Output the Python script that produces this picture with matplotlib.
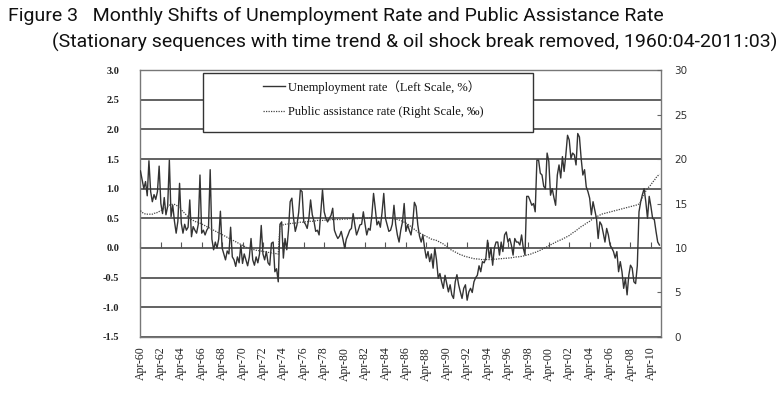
import matplotlib
matplotlib.use("Agg")
import matplotlib.pyplot as plt
from matplotlib.patches import Rectangle
import numpy as np

# bimonthly readings (Apr, Jun, Aug, Oct, Dec, Feb of next year), starting 1960:04
unemp_1960s = [1.30, 1.15, 1.00, 1.12, 0.88, 1.47,
               0.95, 0.78, 0.90, 0.82, 0.95, 1.38,
               0.75, 0.58, 0.85, 0.56, 0.70, 1.48,
               0.53, 0.72, 0.45, 0.25, 0.45, 1.09,
               0.42, 0.25, 0.40, 0.30, 0.35, 0.81,
               0.19, 0.36, 0.30, 0.25, 0.40, 1.23,
               0.25, 0.30, 0.22, 0.30, 0.35, 1.32,
               0.15, -0.03, 0.10, 0.00, 0.15, 0.62,
               0.00, -0.10, -0.20, -0.05, -0.10, 0.35,
               -0.15, -0.20, -0.31, -0.15, -0.25, 0.05]
unemp_1970s = [-0.26, -0.10, -0.20, -0.30, -0.15, 0.16,
               -0.20, -0.29, -0.15, -0.25, -0.10, 0.38,
               -0.10, -0.20, -0.06, -0.25, -0.29, 0.08,
               0.10, -0.40, -0.35, -0.57, 0.40, 0.44,
               -0.17, 0.16, -0.03, 0.30, 0.78, 0.84,
               0.50, 0.28, 0.39, 0.60, 0.98, 0.95,
               0.44, 0.40, 0.33, 0.50, 0.81, 0.56,
               0.45, 0.28, 0.30, 0.22, 0.60, 0.98,
               0.61, 0.50, 0.44, 0.50, 0.55, 0.67,
               0.30, 0.22, 0.16, 0.20, 0.28, 0.15]
unemp_1980s = [0.00, 0.15, 0.22, 0.30, 0.33, 0.58,
               0.39, 0.22, 0.30, 0.39, 0.40, 0.61,
               0.40, 0.22, 0.33, 0.30, 0.55, 0.92,
               0.67, 0.39, 0.45, 0.35, 0.60, 0.92,
               0.50, 0.39, 0.28, 0.30, 0.40, 0.72,
               0.40, 0.22, 0.10, 0.30, 0.44, 0.75,
               0.28, 0.39, 0.30, 0.22, 0.40, 0.77,
               0.70, 0.39, 0.20, 0.10, 0.22, 0.00,
               -0.17, -0.06, -0.23, -0.10, -0.34, 0.00,
               -0.20, -0.51, -0.43, -0.57, -0.68, -0.46]
unemp_1990s = [-0.60, -0.74, -0.62, -0.79, -0.85, -0.57,
               -0.45, -0.62, -0.74, -0.85, -0.68, -0.62,
               -0.88, -0.74, -0.68, -0.75, -0.57, -0.50,
               -0.46, -0.30, -0.40, -0.23, -0.25, -0.17,
               0.13, -0.17, 0.00, -0.29, 0.00, 0.10,
               0.10, -0.12, 0.10, -0.06, 0.22, 0.27,
               0.10, 0.16, 0.05, -0.12, 0.16, 0.10,
               0.10, 0.05, 0.22, 0.00, -0.12, 0.87,
               0.87, 0.80, 0.72, 0.75, 0.61, 1.48,
               1.48, 1.26, 1.23, 1.04, 1.00, 1.60]
unemp_2000s = [1.46, 0.89, 1.00, 0.85, 0.72, 1.23,
               1.40, 1.18, 1.54, 1.29, 1.57, 1.90,
               1.82, 1.51, 1.60, 1.57, 1.40, 1.93,
               1.87, 1.51, 1.23, 1.32, 1.03, 0.95,
               0.84, 0.56, 0.78, 0.64, 0.50, 0.16,
               0.44, 0.39, 0.25, 0.10, 0.33, 0.22,
               0.05, 0.00, -0.06, -0.17, -0.06, -0.40,
               -0.23, -0.40, -0.68, -0.51, -0.79, -0.46,
               -0.29, -0.34, -0.57, -0.60, -0.30, 0.61,
               0.78, 0.90, 1.00, 0.78, 0.50, 0.87]
unemp_2010s = [0.70, 0.50, 0.48, 0.28, 0.10, 0.05]

pa_1960s = [14.2, 14.0, 13.9, 13.8, 13.8, 13.8,
            13.8, 13.8, 13.9, 13.9, 14.0, 14.1,
            14.2, 14.3, 14.5, 14.6, 14.7, 14.8,
            14.9, 14.9, 14.9, 14.8, 14.7, 14.5,
            14.3, 14.1, 13.9, 13.7, 13.5, 13.3,
            13.2, 13.1, 13.0, 12.9, 12.9, 12.8,
            12.7, 12.6, 12.5, 12.4, 12.3, 12.2,
            12.1, 12.0, 11.9, 11.8, 11.7, 11.6,
            11.5, 11.4, 11.3, 11.2, 11.1, 11.0,
            10.9, 10.8, 10.7, 10.6, 10.5, 10.4]
pa_1970s = [10.3, 10.2, 10.1, 10.0, 9.95, 9.9,
            9.85, 9.8, 9.75, 9.7, 9.7, 9.65,
            9.6, 9.6, 9.55, 9.5, 9.5, 9.45,
            9.4, 9.4, 9.35, 9.3, 12.6, 12.6,
            12.6, 12.65, 12.7, 12.7, 12.75, 12.75,
            12.8, 12.8, 12.85, 12.85, 12.9, 12.9,
            12.9, 12.95, 12.95, 13.0, 13.0, 13.0,
            13.05, 13.05, 13.1, 13.1, 13.1, 13.1,
            13.1, 13.15, 13.15, 13.15, 13.2, 13.2,
            13.2, 13.2, 13.2, 13.2, 13.2, 13.25]
pa_1980s = [13.25, 13.25, 13.25, 13.3, 13.3, 13.3,
            13.3, 13.3, 13.3, 13.35, 13.35, 13.35,
            13.35, 13.35, 13.4, 13.4, 13.4, 13.4,
            13.4, 13.4, 13.4, 13.4, 13.4, 13.4,
            13.4, 13.4, 13.4, 13.35, 13.35, 13.3,
            13.25, 13.2, 13.15, 13.1, 13.0, 12.9,
            12.8, 12.7, 12.55, 12.4, 12.25, 12.1,
            11.95, 11.8, 11.7, 11.6, 11.5, 11.4,
            11.3, 11.2, 11.1, 11.0, 10.95, 10.9,
            10.85, 10.75, 10.65, 10.55, 10.45, 10.3]
pa_1990s = [10.15, 10.0, 9.85, 9.75, 9.65, 9.55,
            9.45, 9.35, 9.25, 9.2, 9.1, 9.05,
            9.0, 8.95, 8.9, 8.85, 8.8, 8.8,
            8.75, 8.75, 8.7, 8.7, 8.7, 8.7,
            8.7, 8.7, 8.7, 8.7, 8.75, 8.75,
            8.75, 8.8, 8.8, 8.8, 8.85, 8.85,
            8.85, 8.9, 8.9, 8.95, 8.95, 9.0,
            9.0, 9.05, 9.05, 9.1, 9.15, 9.2,
            9.25, 9.3, 9.35, 9.45, 9.5, 9.6,
            9.65, 9.75, 9.85, 9.95, 10.05, 10.15]
pa_2000s = [10.25, 10.35, 10.45, 10.55, 10.65, 10.75,
            10.85, 10.9, 11.0, 11.1, 11.2, 11.3,
            11.4, 11.55, 11.7, 11.8, 11.95, 12.1,
            12.25, 12.4, 12.5, 12.65, 12.75, 12.9,
            13.0, 13.15, 13.3, 13.4, 13.5, 13.6,
            13.7, 13.8, 13.85, 13.9, 13.95, 14.0,
            14.05, 14.1, 14.15, 14.2, 14.25, 14.3,
            14.35, 14.4, 14.45, 14.5, 14.55, 14.6,
            14.65, 14.7, 14.75, 14.8, 14.85, 14.95,
            15.2, 15.7, 16.1, 16.4, 16.7, 16.9]
pa_2010s = [17.1, 17.4, 17.6, 17.9, 18.1, 18.3]

tick_years = list(range(60, 100, 2)) + list(range(0, 11, 2))
tick_labels = ["Apr-%02d" % y for y in tick_years]

unemp = np.array(unemp_1960s + unemp_1970s + unemp_1980s + unemp_1990s + unemp_2000s + unemp_2010s)
pa = np.array(pa_1960s + pa_1970s + pa_1980s + pa_1990s + pa_2000s + pa_2010s)
months = np.arange(len(unemp)) * 2   # months since 1960:04

serif = ["Liberation Serif", "DejaVu Serif"]

fig = plt.figure(figsize=(7.83, 3.94), dpi=100)
ax = fig.add_axes([0.1788, 0.1447, 0.665, 0.6776])

ax.plot(months, unemp, color="#333333", lw=1.0, zorder=3)
ax.set_xlim(-0.5, 611.5)
ax.set_ylim(-1.5, 3.0)
ax.set_yticks(np.arange(-1.5, 3.01, 0.5))
ax.set_yticklabels(["%.1f" % v for v in np.arange(-1.5, 3.01, 0.5)],
                   family=serif, fontsize=7.5, fontweight="bold", color="#222222")
ax.tick_params(axis="y", length=0, pad=15)
ax.grid(axis="y", color="#555555", lw=1.3)
ax.set_xticks(np.arange(0, 611, 24))
ax.set_xticklabels(tick_labels, rotation=90, family=serif, fontsize=8.5, color="#222222")
ax.tick_params(axis="x", length=0, pad=7)
for s in ax.spines.values():
    s.set_color("#777777")
    s.set_linewidth(1.0)

# category axis crosses at zero with small ticks
sec = ax.secondary_xaxis(1 / 3)
sec.set_xticks(np.arange(0, 611, 24))
sec.tick_params(direction="in", length=4, color="#555555", labelbottom=False, labeltop=False)
for s in sec.spines.values():
    s.set_visible(False)

ax2 = ax.twinx()
ax2.plot(months, pa, color="#444444", lw=0.9, linestyle=(0, (1, 1)), zorder=3)
ax2.set_ylim(0, 30)
ax2.set_yticks(np.arange(0, 31, 5))
ax2.tick_params(axis="y", direction="in", length=3, pad=10, labelsize=7.5,
                color="#666666", labelcolor="#333333")
for s in ax2.spines.values():
    s.set_visible(False)

# legend box
ax2.add_patch(Rectangle((0.121, 0.769), 0.634, 0.221, transform=ax2.transAxes,
                        facecolor="white", edgecolor="#333333", lw=1.0, zorder=5))
leg = ax2.legend(ax.get_lines() + ax2.get_lines(),
                 ["Unemployment rate\uff08Left Scale, %\uff09", "Public assistance rate (Right Scale, \u2030)"],
                 loc="upper left", bbox_to_anchor=(0.236, 0.962), frameon=False,
                 prop={"family": ["Liberation Serif", "Noto Sans CJK JP", "DejaVu Sans"], "size": 9},
                 handlelength=1.8, handletextpad=0.2, labelspacing=1.0, borderpad=0, borderaxespad=0)
for t in leg.get_texts():
    t.set_color("#111111")
leg.set_zorder(6)

title_font = ["Roboto", "DejaVu Sans"]
fig.text(8 / 783, 1 - 21 / 394, "Figure 3   Monthly Shifts of Unemployment Rate and Public Assistance Rate",
         family=title_font, fontsize=14, va="baseline", color="#111111")
fig.text(52 / 783, 1 - 48 / 394,
         "(Stationary sequences with time trend & oil shock break removed, 1960:04-2011:03)",
         family=title_font, fontsize=14, va="baseline", color="#111111")

fig.savefig("out.png", dpi=100)
